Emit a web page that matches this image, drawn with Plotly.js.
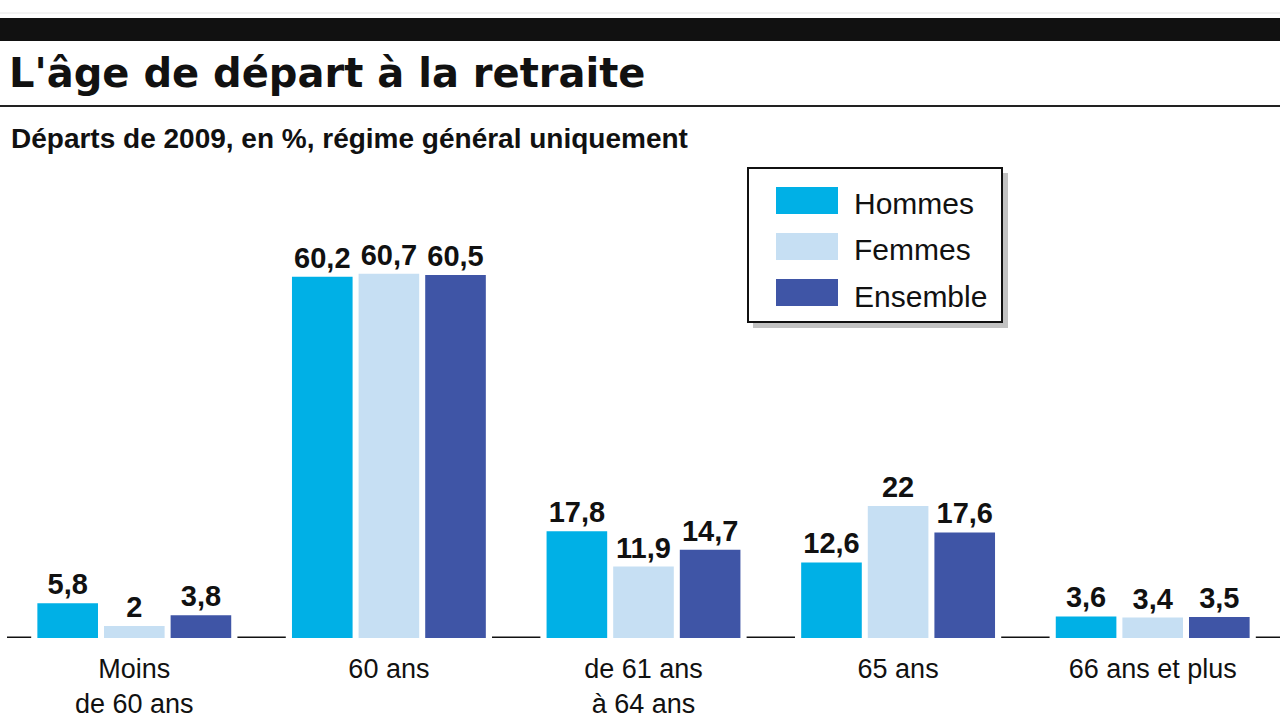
<!DOCTYPE html>
<html>
<head>
<meta charset="utf-8">
<script src="https://cdn.plot.ly/plotly-3.0.1.min.js"></script>
<style>html,body{margin:0;padding:0;background:#fff;}#chart{width:1280px;height:720px;}</style>
</head>
<body>
<div id="chart"></div>
<script>
var categories = ["Moins<br>de 60 ans", "60 ans", "de 61 ans<br>à 64 ans", "65 ans", "66 ans et plus"];
var seriesNames = ["Hommes", "Femmes", "Ensemble"];
var hommes = [5.8, 60.2, 17.8, 12.6, 3.6];
var femmes = [2, 60.7, 11.9, 22, 3.4];
var ensemble = [3.8, 60.5, 14.7, 17.6, 3.5];
var colors = ["#00b0e6", "#c6dff3", "#3f55a6"];

var W = 1280, H = 720;
var mL = 7, mR = 0, mT = 218, mB = 82;
var pw = W - mL - mR, ph = H - mT - mB;
function px(x){ return (x - mL) / pw; }
function py(y){ return (H - mB - y) / ph; }

var sans = "Liberation Sans Narrow, Liberation Sans, Arial, sans-serif";

function fmt(v){ return String(v).replace(".", ","); }

var values = [hommes, femmes, ensemble];
var traces = values.map(function(vals, k){
  return {
    type: "bar",
    name: seriesNames[k],
    x: categories,
    y: vals,
    text: vals.map(fmt),
    textposition: "outside",
    textfont: {family: sans, size: 29, color: "#111", weight: "bold"},
    cliponaxis: false,
    marker: {color: colors[k], line: {width: 0}},
    hoverinfo: "skip",
    showlegend: false
  };
});

var shapes = [];
// baseline segments between groups
var half = 0.405;
shapes.push({type:"line", xref:"x", yref:"y", x0:-0.5, x1:-half, y0:0, y1:0, line:{color:"#111", width:3}});
for (var i = 0; i < categories.length - 1; i++) {
  shapes.push({type:"line", xref:"x", yref:"y", x0:i+half, x1:i+1-half, y0:0, y1:0, line:{color:"#111", width:3}});
}
shapes.push({type:"line", xref:"x", yref:"y", x0:categories.length-1+half, x1:categories.length-0.5, y0:0, y1:0, line:{color:"#111", width:3}});

// header black band and rule
shapes.push({type:"rect", xref:"paper", yref:"paper", x0:px(0), x1:px(1280), y0:py(41), y1:py(18), fillcolor:"#111", line:{width:0}});
shapes.push({type:"line", xref:"paper", yref:"paper", x0:px(0), x1:px(1280), y0:py(106), y1:py(106), line:{color:"#222", width:2}});
shapes.push({type:"line", xref:"paper", yref:"paper", x0:px(0), x1:px(1280), y0:py(13), y1:py(13), line:{color:"#e6e6e6", width:1}});

// legend box with shadow
shapes.push({type:"rect", xref:"paper", yref:"paper", x0:px(753), x1:px(1008), y0:py(328), y1:py(173), fillcolor:"rgba(120,120,120,0.45)", line:{width:0}});
shapes.push({type:"rect", xref:"paper", yref:"paper", x0:px(748), x1:px(1002), y0:py(322), y1:py(168), fillcolor:"#fff", line:{color:"#111", width:2}});

var annotations = [];
var legTops = [187, 233, 279];
seriesNames.forEach(function(n, k){
  shapes.push({type:"rect", xref:"paper", yref:"paper", x0:px(776), x1:px(838), y0:py(legTops[k]+27), y1:py(legTops[k]), fillcolor:colors[k], line:{width:0}});
  annotations.push({xref:"paper", yref:"paper", x:px(852), y:py(legTops[k]+17), xanchor:"left", yanchor:"middle", showarrow:false, text:n, font:{family: sans, size: 30, color:"#111"}});
});

annotations.push({xref:"paper", yref:"paper", x:px(9), y:py(138), xanchor:"left", yanchor:"middle", showarrow:false,
  text:"Départs de 2009, en %, régime général uniquement", font:{family: sans, size: 28, color:"#111", weight:"bold"}});

var layout = {
  width: W, height: H,
  margin: {l: mL, r: mR, t: mT, b: mB, pad: 0},
  paper_bgcolor: "#fff", plot_bgcolor: "#fff",
  title: {text: "L'âge de départ à la retraite", x: 9/W, xanchor: "left", xref: "container", yref: "container", y: 1 - 73/H, yanchor: "middle",
    font: {family: "DejaVu Sans, sans-serif", size: 40, color: "#111", weight: "bold"}},
  barmode: "group",
  bargap: 0.215,
  bargroupgap: 0.09,
  separators: ", ",
  xaxis: {type: "category", range: [-0.5, 4.5], showgrid: false, zeroline: false, showline: false, ticks: "",
    tickfont: {family: sans, size: 27, color: "#111"}, ticklabelstandoff: 12, fixedrange: true},
  yaxis: {range: [0, 70], showgrid: false, zeroline: false, showline: false, showticklabels: false, ticks: "", fixedrange: true},
  shapes: shapes,
  annotations: annotations,
  showlegend: false
};

Plotly.newPlot("chart", traces, layout, {displayModeBar: false, staticPlot: true});
</script>
</body>
</html>
